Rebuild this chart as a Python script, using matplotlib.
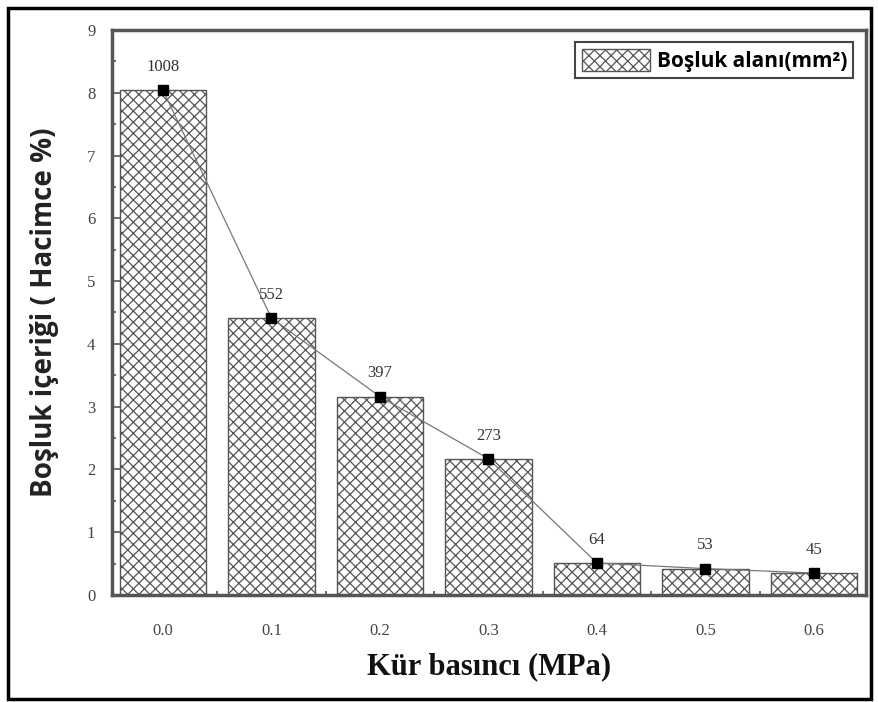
import matplotlib.pyplot as plt
import matplotlib.patches as mpatches
import numpy as np

pressure = [0.0, 0.1, 0.2, 0.3, 0.4, 0.5, 0.6]
void_content = [8.04, 4.41, 3.16, 2.17, 0.51, 0.42, 0.35]
void_area = [1008, 552, 397, 273, 64, 53, 45]
tick_labels = ['0.0', '0.1', '0.2', '0.3', '0.4', '0.5', '0.6']

plt.rcParams['hatch.color'] = '#8a8a8a'
plt.rcParams['hatch.linewidth'] = 0.9

fig = plt.figure(figsize=(8.79, 7.02), dpi=100)
ax = fig.add_axes([0.1274, 0.1524, 0.8578, 0.8049])

ax.bar(pressure, void_content, width=0.08, color='white', edgecolor='#555555',
       linewidth=1.0, hatch='xxx', label='Boşluk alanı(mm²)', zorder=2)
ax.plot(pressure, void_content, color='#777777', lw=0.9, marker='s', ms=7,
        mfc='black', mec='black', zorder=3)

for x, y, a in zip(pressure, void_content, void_area):
    ax.annotate(str(a), (x, y), xytext=(0, 11), textcoords='offset points',
                ha='center', va='bottom', fontsize=12, family='Liberation Serif',
                color='#333333')

ax.set_xlim(-0.047, 0.648)
ax.set_ylim(0, 9)
ax.set_xticks(pressure)
ax.set_xticklabels(tick_labels)
ax.set_xticks(np.arange(0.05, 0.6, 0.1), minor=True)
ax.set_yticks(np.arange(0, 10, 1))
ax.set_yticks(np.arange(0.5, 9, 1), minor=True)
ax.tick_params(direction='in', which='both', colors='#555555', labelcolor='#444444',
               labelsize=12, length=6, width=1.2)
ax.tick_params(axis='x', pad=20)
ax.tick_params(axis='y', pad=12)
ax.tick_params(which='minor', length=3)
for lbl in ax.get_xticklabels() + ax.get_yticklabels():
    lbl.set_family('Liberation Serif')
for s in ax.spines.values():
    s.set_color('#555555')
    s.set_linewidth(2.5)

ax.set_xlabel('Kür basıncı (MPa)', family='Liberation Serif', fontweight='bold',
              fontsize=22, color='#111111', labelpad=10)
ax.set_ylabel('Boşluk içeriği ( Hacimce %)', family='Open Sans', fontweight='bold',
              fontsize=20, color='#222222', labelpad=20)

leg = ax.legend(loc='upper right', prop={'family': 'Open Sans', 'weight': 'bold', 'size': 15},
                fancybox=False, edgecolor='#444444', handlelength=3.3, handleheight=1.3,
                handletextpad=0.3, borderaxespad=0.6, borderpad=0.3, framealpha=1)
leg.get_frame().set_linewidth(1.5)

fig.patches.append(mpatches.Rectangle((0.009, 0.004), 0.982, 0.984, transform=fig.transFigure,
                                      fill=False, edgecolor='black', linewidth=2.5))

fig.savefig('out.png', dpi=100)
